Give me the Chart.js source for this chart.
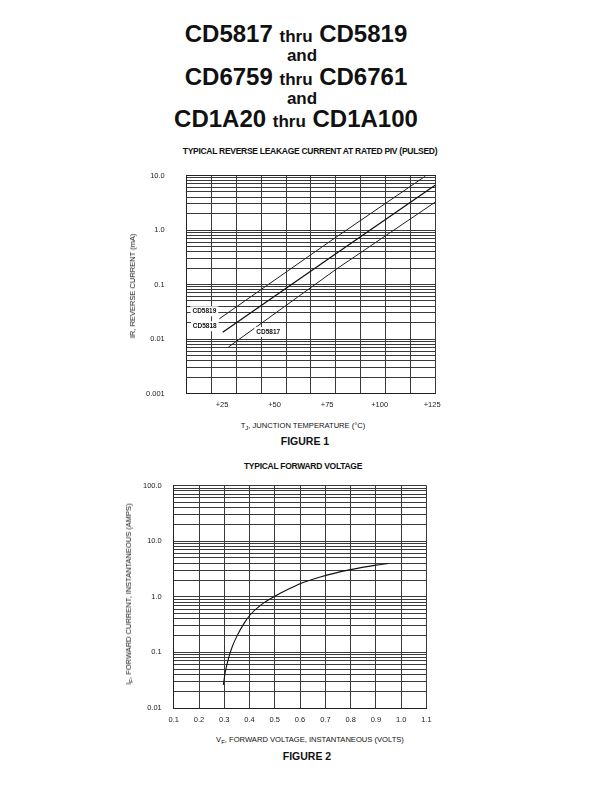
<!DOCTYPE html>
<html>
<head>
<meta charset="utf-8">
<script src="https://cdn.jsdelivr.net/npm/chart.js@4.4.0/dist/chart.umd.min.js"></script>
<style>
body { margin:0; width:612px; height:792px; background:#fff; position:relative; font-family:"Liberation Sans", Arial, sans-serif; color:#111; overflow:hidden; }
.t { position:absolute; width:400px; text-align:center; white-space:nowrap; }
.big { font-weight:bold; font-size:24px; line-height:24px; }
.big span { font-size:17px; }
.and { font-weight:bold; font-size:17px; line-height:17px; }
.ftitle { font-weight:bold; font-size:8.5px; line-height:10px; letter-spacing:-0.28px; font-family:"Liberation Sans Narrow", "Liberation Sans", Arial, sans-serif; }
.axt { font-size:7.6px; line-height:10px; }
.axt sub { font-size:6px; vertical-align:-2px; line-height:0; }
.fig { font-weight:bold; font-size:10.5px; line-height:12px; }
.ylab { position:absolute; transform:translate(-50%,-50%) rotate(-90deg); white-space:nowrap; font-size:7.5px; line-height:10px; }
.ylab sub { font-size:6px; vertical-align:-2px; line-height:0; }
.wrap { position:absolute; }
</style>
</head>
<body>

<div class="t big" style="left:96px; top:22px;">CD5817 <span>thru</span> CD5819</div>
<div class="t and" style="left:102px; top:47px;">and</div>
<div class="t big" style="left:96px; top:65px;">CD6759 <span>thru</span> CD6761</div>
<div class="t and" style="left:102px; top:90px;">and</div>
<div class="t big" style="left:96px; top:107px;">CD1A20 <span>thru</span> CD1A100</div>

<div class="t ftitle" style="left:110px; top:146px;">TYPICAL REVERSE LEAKAGE CURRENT AT RATED PIV (PULSED)</div>
<div class="wrap" id="leakWrap" style="left:130px; top:150px; width:320px; height:270px;"><canvas id="leakChart"></canvas></div>
<div class="ylab" style="left:133px; top:286px;">IR, REVERSE CURRENT (mA)</div>
<div class="t axt" style="left:103px; top:421px;">T<sub>J</sub>, JUNCTION TEMPERATURE (°C)</div>
<div class="t fig" style="left:105px; top:435px;">FIGURE 1</div>

<div class="t ftitle" style="left:103px; top:461px;">TYPICAL FORWARD VOLTAGE</div>
<div class="wrap" id="fwdWrap" style="left:120px; top:470px; width:316px; height:260px;"><canvas id="fwdChart"></canvas></div>
<div class="ylab" style="left:129px; top:594px;">I<sub>F</sub>, FORWARD CURRENT, INSTANTANEOUS (AMPS)</div>
<div class="t axt" style="left:110px; top:735px;">V<sub>F</sub>, FORWARD VOLTAGE, INSTANTANEOUS (VOLTS)</div>
<div class="t fig" style="left:107px; top:750px;">FIGURE 2</div>

<script>
// Figure 1 - reverse leakage current vs junction temperature
const tempTicks = [25, 50, 75, 100, 125];
const leakDecades = [0.001, 0.01, 0.1, 1, 10];
const leakDecadeLabels = ['0.001', '0.01', '0.1', '1.0', '10.0'];
const seriesNames = ['CD5819', 'CD5818', 'CD5817'];
const temp5819 = [23.7, 76.4, 121.7];
const leak5819 = [0.0235, 0.62, 9.7];
const temp5818 = [25.3, 76.4, 126.4];
const leak5818 = [0.0133, 0.31, 6.6];
const temp5817 = [28.0, 79.6, 126.4];
const leak5817 = [0.0071, 0.194, 3.24];

// Figure 2 - typical forward voltage
const voltTicks = [0.1, 0.2, 0.3, 0.4, 0.5, 0.6, 0.7, 0.8, 0.9, 1.0, 1.1];
const fwdDecades = [0.01, 0.1, 1, 10, 100];
const fwdDecadeLabels = ['0.01', '0.1', '1.0', '10.0', '100.0'];
const fwdVolts = [0.296, 0.305, 0.318, 0.331, 0.351, 0.377, 0.40, 0.443, 0.50, 0.555, 0.60, 0.68, 0.80, 0.90, 0.95];
const fwdAmps = [0.026, 0.047, 0.082, 0.125, 0.20, 0.325, 0.46, 0.70, 1.02, 1.38, 1.72, 2.27, 3.07, 3.70, 3.97];

const gridColor = '#3a3a3a';
const tickFont = { family: '"Liberation Sans", Arial, sans-serif', size: 7.5 };

function logTicks(decades) {
  var out = [];
  for (var d = 0; d < decades.length - 1; d++) {
    for (var m = 1; m < 10; m++) {
      out.push(Number((m * decades[d]).toPrecision(3)));
    }
  }
  out.push(decades[decades.length - 1]);
  return out;
}

function decadeLabel(v, decades, labels) {
  for (var i = 0; i < decades.length; i++) {
    if (Math.abs(v - decades[i]) < decades[i] * 1e-6) return labels[i];
  }
  return '';
}

function pairs(xs, ys) {
  return xs.map((x, i) => ({ x: x, y: ys[i] }));
}

// size and move the canvas so the plot area lands where the scan has it
function fitArea(chart, wrap, area) {
  for (var k = 0; k < 3; k++) {
    var ca = chart.chartArea;
    var w = parseFloat(wrap.style.width) + (area.right - area.left) - (ca.right - ca.left);
    var h = parseFloat(wrap.style.height) + (area.bottom - area.top) - (ca.bottom - ca.top);
    wrap.style.width = w + 'px';
    wrap.style.height = h + 'px';
    chart.resize(w, h);
  }
  var c = chart.chartArea;
  wrap.style.left = (parseFloat(wrap.style.left) + area.left - (wrap.getBoundingClientRect().left + c.left)) + 'px';
  wrap.style.top = (parseFloat(wrap.style.top) + area.top - (wrap.getBoundingClientRect().top + c.top)) + 'px';
}

const seriesLabels = {
  id: 'seriesLabels',
  afterDatasetsDraw(chart, args, opts) {
    const ctx = chart.ctx;
    ctx.save();
    ctx.font = 'bold 6.5px "Liberation Sans", Arial, sans-serif';
    ctx.textBaseline = 'middle';
    chart.data.datasets.forEach((ds, i) => {
      const pt = chart.getDatasetMeta(i).data[0];
      const o = opts.offsets[i];
      const w = ctx.measureText(ds.label).width;
      const left = o.align === 'right' ? pt.x + o.dx - w : pt.x + o.dx;
      const y = pt.y + o.dy;
      ctx.fillStyle = '#fff';
      ctx.fillRect(left - 2, y - 5, w + 4, 10);
      ctx.fillStyle = '#111';
      ctx.fillText(ds.label, left, y);
    });
    ctx.restore();
  }
};

const leakChart = new Chart(document.getElementById('leakChart'), {
  type: 'line',
  data: {
    datasets: [
      { label: seriesNames[0], data: pairs(temp5819, leak5819), borderColor: '#222', borderWidth: 1, pointRadius: 0, xAxisID: 'x' },
      { label: seriesNames[1], data: pairs(temp5818, leak5818), borderColor: '#111', borderWidth: 1.3, pointRadius: 0, xAxisID: 'x' },
      { label: seriesNames[2], data: pairs(temp5817, leak5817), borderColor: '#222', borderWidth: 1, pointRadius: 0, xAxisID: 'x' }
    ]
  },
  options: {
    responsive: false,
    maintainAspectRatio: false,
    animation: false,
    layout: { padding: { left: 0, right: 15, top: 15, bottom: 0 } },
    plugins: {
      legend: { display: false },
      tooltip: { enabled: false },
      seriesLabels: { offsets: [
        { dx: -3, dy: -7.5, align: 'right' },
        { dx: -6, dy: -6, align: 'right' },
        { dx: 28, dy: -15, align: 'left' }
      ] }
    },
    scales: {
      x: {
        type: 'linear', min: 8.2, max: 126.4,
        afterBuildTicks: s => { s.ticks = tempTicks.map(v => ({ value: v })); },
        grid: { display: false, drawTicks: false },
        border: { display: true, color: '#222' },
        ticks: { autoSkip: false, maxRotation: 0, padding: 7, color: '#222', font: tickFont, callback: v => '+' + v }
      },
      xg: {
        type: 'linear', position: 'top', min: 0, max: 10,
        ticks: { display: false, stepSize: 1 },
        grid: { color: gridColor, drawTicks: false },
        border: { display: true, color: '#222' }
      },
      y: {
        type: 'logarithmic', min: 0.001, max: 10,
        afterBuildTicks: s => { s.ticks = logTicks(leakDecades).map(v => ({ value: v })); },
        grid: { color: gridColor, drawTicks: false },
        border: { display: true, color: '#222' },
        ticks: { autoSkip: false, padding: 22, color: '#222', font: tickFont,
          callback: v => decadeLabel(v, leakDecades, leakDecadeLabels) }
      }
    }
  },
  plugins: [seriesLabels]
});

const fwdChart = new Chart(document.getElementById('fwdChart'), {
  type: 'line',
  data: {
    datasets: [
      { label: 'VF', data: pairs(fwdVolts, fwdAmps), borderColor: '#111', borderWidth: 1.1, pointRadius: 0, cubicInterpolationMode: 'monotone' }
    ]
  },
  options: {
    responsive: false,
    maintainAspectRatio: false,
    animation: false,
    layout: { padding: { left: 0, right: 10, top: 10, bottom: 0 } },
    plugins: { legend: { display: false }, tooltip: { enabled: false } },
    scales: {
      x: {
        type: 'linear', min: 0.1, max: 1.1,
        afterBuildTicks: s => { s.ticks = voltTicks.map(v => ({ value: v })); },
        grid: { color: gridColor, drawTicks: false },
        border: { display: true, color: '#222' },
        ticks: { autoSkip: false, maxRotation: 0, padding: 7, color: '#222', font: tickFont, callback: v => v.toFixed(1) }
      },
      y: {
        type: 'logarithmic', min: 0.01, max: 100,
        afterBuildTicks: s => { s.ticks = logTicks(fwdDecades).map(v => ({ value: v })); },
        grid: { color: gridColor, drawTicks: false },
        border: { display: true, color: '#222' },
        ticks: { autoSkip: false, padding: 12, color: '#222', font: tickFont,
          callback: v => decadeLabel(v, fwdDecades, fwdDecadeLabels) }
      }
    }
  }
});

fitArea(leakChart, document.getElementById('leakWrap'), { left: 186.7, top: 175, right: 435, bottom: 393 });
fitArea(fwdChart, document.getElementById('fwdWrap'), { left: 173.3, top: 485, right: 426, bottom: 707.5 });
</script>
</body>
</html>
